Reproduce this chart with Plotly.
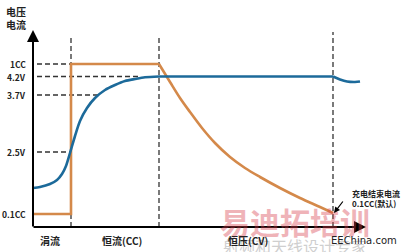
import plotly.graph_objects as go

# ---- data (time units along x, level units along y; origin at axes corner) ----
level_names = ["1CC", "4.2V", "3.7V", "2.5V", "0.1CC"]
level_values = [163, 150.5, 132, 75, 13]
guide_ends = [38, 107, 65, 38, None]  # how far dashed guide reaches (time)

phase_bounds = [38, 126, 300]
phase_labels = ["涓流", "恒流(CC)", "恒压(CV)"]
phase_label_pos = [17, 89, 215]

voltage_rise_t = [0, 7, 17, 24, 29, 33, 37, 42, 47, 54, 62, 72, 82, 92, 102, 112, 126]
voltage_rise_v = [39, 40, 43, 47, 53, 61, 74, 91, 106, 119, 129, 137, 142, 146, 148, 149.7, 150.5]
voltage_flat_t = [126, 300]
voltage_flat_v = [150.5, 150.5]
voltage_end_t = [300, 307, 314, 322, 327]
voltage_end_v = [150.5, 147.5, 145.5, 145, 145.5]

current_step_t = [0, 38, 38, 126]
current_step_v = [13, 13, 163, 163]
current_decay_t = [126, 137, 147, 157, 169, 182, 197, 212, 227, 247, 267, 287, 300]
current_decay_v = [163, 145, 129, 115, 99, 84, 70, 59, 50, 39, 29, 20, 14]

ORANGE = "#d4894a"
BLUE = "#1c6a9a"
FONT = "Noto Sans CJK SC"

fig = go.Figure()

# dashed guides
for name, val, end in zip(level_names, level_values, guide_ends):
    if end is not None:
        fig.add_trace(go.Scatter(x=[4, end], y=[val, val], mode="lines",
                                 line=dict(color="#333333", width=1.3, dash="5px,3px"),
                                 hoverinfo="skip", showlegend=False))
for i, b in enumerate(phase_bounds):
    top = [189, 192, 195][i]
    fig.add_trace(go.Scatter(x=[b, b], y=[0, top], mode="lines",
                             line=dict(color="#333333", width=1.3, dash="5px,3px"),
                             hoverinfo="skip", showlegend=False))

# current (orange)
fig.add_trace(go.Scatter(x=current_step_t, y=current_step_v, mode="lines",
                         line=dict(color=ORANGE, width=2.6), showlegend=False))
fig.add_trace(go.Scatter(x=current_decay_t, y=current_decay_v, mode="lines",
                         line=dict(color=ORANGE, width=2.6, shape="spline"), showlegend=False))
# voltage (blue)
fig.add_trace(go.Scatter(x=voltage_rise_t, y=voltage_rise_v, mode="lines",
                         line=dict(color=BLUE, width=2.6, shape="spline", smoothing=0.8),
                         showlegend=False))
fig.add_trace(go.Scatter(x=voltage_flat_t, y=voltage_flat_v, mode="lines",
                         line=dict(color=BLUE, width=2.6), showlegend=False))
fig.add_trace(go.Scatter(x=voltage_end_t, y=voltage_end_v, mode="lines",
                         line=dict(color=BLUE, width=2.6, shape="spline"), showlegend=False))

ann = []
# axes with arrows
ann.append(dict(x=0, y=197, ax=0, ay=-1, xref="x", yref="y", axref="x", ayref="y",
                showarrow=True, arrowhead=2, arrowsize=1.2, arrowwidth=2, arrowcolor="black", text=""))
ann.append(dict(x=333, y=0, ax=-1, ay=0, xref="x", yref="y", axref="x", ayref="y",
                showarrow=True, arrowhead=2, arrowsize=1.2, arrowwidth=2, arrowcolor="black", text=""))

# level labels
for name, val in zip(level_names, level_values):
    ann.append(dict(x=-5, y=val, xref="x", yref="y", text="<b>%s</b>" % name, showarrow=False,
                    xanchor="right", yanchor="middle", font=dict(family=FONT, size=8.5, color="#222")))

# y title
ann.append(dict(x=-29, y=193, xref="x", yref="y", text="<b>电压<br>电流</b>", showarrow=False,
                xanchor="left", yanchor="bottom", align="left",
                font=dict(family=FONT, size=10, color="#222")))

# watermark (faint)
ann.append(dict(x=262, y=6, xref="x", yref="y", text="<b>易迪拓培训</b>", showarrow=False,
                xanchor="center", yanchor="middle", opacity=0.4,
                font=dict(family=FONT, size=30, color="#d9434f")))
ann.append(dict(x=262, y=-19, xref="x", yref="y", text="射频和天线设计专家", showarrow=False,
                xanchor="center", yanchor="middle", opacity=0.4,
                font=dict(family=FONT, size=16, color="#888")))
ann.append(dict(x=331, y=-13, xref="x", yref="y", text="EEChina.com", showarrow=False,
                xanchor="center", yanchor="middle",
                font=dict(family="DejaVu Sans", size=10, color="#222")))

# phase labels
for lab, p in zip(phase_labels, phase_label_pos):
    ann.append(dict(x=p, y=-13, xref="x", yref="y", text="<b>%s</b>" % lab, showarrow=False,
                    xanchor="center", yanchor="middle", font=dict(family=FONT, size=10, color="#222")))

# end-of-charge note
ann.append(dict(x=343, y=29, xref="x", yref="y",
                text="<b>充电结束电流<br>0.1CC(默认)</b>", showarrow=False,
                xanchor="center", yanchor="middle", align="left",
                font=dict(family=FONT, size=8, color="#222")))
ann.append(dict(x=301, y=14, ax=311, ay=27, xref="x", yref="y", axref="x", ayref="y",
                showarrow=True, arrowhead=2, arrowsize=1, arrowwidth=1.2, arrowcolor="black", text=""))

fig.update_layout(
    width=408, height=252,
    margin=dict(l=0, r=0, t=0, b=0, pad=0),
    paper_bgcolor="white", plot_bgcolor="white",
    xaxis=dict(range=[-33, 375], visible=False, fixedrange=True),
    yaxis=dict(range=[-25, 227], visible=False, fixedrange=True),
    annotations=ann,
)
fig.write_html("out.html")
